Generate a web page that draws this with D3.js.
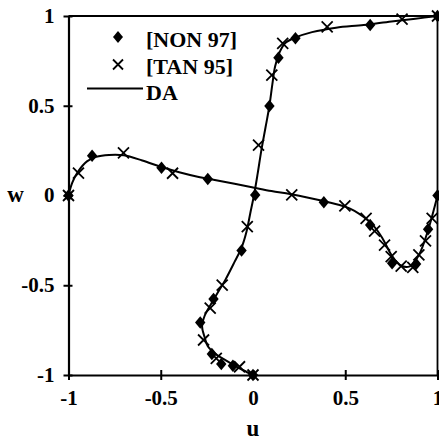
<!DOCTYPE html>
<html>
<head>
<meta charset="utf-8">
<script src="https://cdn.jsdelivr.net/npm/d3@7"></script>
<style>
  html, body { margin: 0; padding: 0; background: #fff; }
  svg { display: block; }
</style>
</head>
<body>
<svg id="chart" width="439" height="440"></svg>
<script>
// DA solution: horizontal profile w(u)
const daH_u = [-1, -0.98, -0.95, -0.9, -0.85, -0.78, -0.7, -0.6, -0.5, -0.4, -0.3, -0.2, -0.1, 0, 0.1, 0.2, 0.3, 0.4, 0.5, 0.55, 0.6, 0.65, 0.7, 0.75, 0.8, 0.85, 0.9, 0.95, 0.98, 1];
const daH_w = [0, 0.07, 0.13, 0.19, 0.215, 0.226, 0.224, 0.195, 0.16, 0.13, 0.105, 0.085, 0.065, 0.045, 0.025, 0.008, -0.012, -0.035, -0.062, -0.085, -0.12, -0.165, -0.235, -0.33, -0.39, -0.395, -0.33, -0.19, -0.08, 0];

// DA solution: vertical profile u(w)
const daV_u = [0, -0.05, -0.095, -0.145, -0.2, -0.245, -0.262, -0.276, -0.262, -0.225, -0.185, -0.15, -0.1, -0.062, -0.035, -0.015, 0.005, 0.025, 0.045, 0.068, 0.089, 0.105, 0.12, 0.145, 0.175, 0.23, 0.32, 0.45, 0.6, 0.75, 0.88, 1];
const daV_w = [-1, -0.975, -0.95, -0.92, -0.885, -0.84, -0.79, -0.73, -0.67, -0.6, -0.53, -0.47, -0.37, -0.29, -0.2, -0.1, 0, 0.12, 0.25, 0.38, 0.5, 0.62, 0.72, 0.8, 0.85, 0.88, 0.91, 0.935, 0.95, 0.97, 0.985, 1];

// [NON 97] data points
const non97_u = [-1, -0.872, -0.496, -0.245, 0.384, 0.635, 0.754, 0.884, 0.949, 1,
                 0.012, -0.062, -0.214, -0.286, -0.223, -0.172, -0.109, 0, 0.089, 0.138, 0.23, 0.635, 1];
const non97_w = [0, 0.222, 0.155, 0.092, -0.038, -0.164, -0.378, -0.382, -0.188, 0,
                 0.003, -0.307, -0.577, -0.708, -0.883, -0.939, -0.948, -1, 0.499, 0.768, 0.876, 0.95, 1];

// [TAN 95] data points
const tan95_u = [-1, -0.946, -0.702, -0.436, 0.21, 0.498, 0.613, 0.659, 0.713, 0.749, 0.803, 0.866, 0.899, 0.935, 0.971,
                 -0.031, -0.167, -0.232, -0.268, -0.199, -0.073, 0, 0.03, 0.102, 0.161, 0.402, 0.808, 1];
const tan95_w = [0, 0.125, 0.238, 0.124, 0.003, -0.058, -0.127, -0.198, -0.276, -0.341, -0.393, -0.4, -0.331, -0.253, -0.127,
                 -0.174, -0.499, -0.628, -0.805, -0.907, -0.954, -1, 0.281, 0.671, 0.848, 0.94, 0.983, 1];

const tickValues = [-1, -0.5, 0, 0.5, 1];
const legendLabels = ["[NON 97]", "[TAN 95]", "DA"];

const FONT = "'Liberation Serif', 'Times New Roman', Times, serif";

const svg = d3.select("#chart");
const x = d3.scaleLinear().domain([-1, 1]).range([68.5, 437.5]);
const y = d3.scaleLinear().domain([-1, 1]).range([375, 16]);

// frame (top and right)
svg.append("path")
  .attr("d", `M${x(-1)},${y(1)}H${x(1)}V${y(-1)}`)
  .attr("fill", "none").attr("stroke", "#000").attr("stroke-width", 1.8);

// axes
const fmt = d => String(d);
const xAxis = svg.append("g").attr("transform", `translate(0,${y(-1)})`)
  .call(d3.axisBottom(x).tickValues(tickValues).tickFormat(fmt).tickSizeOuter(0));
const yAxis = svg.append("g").attr("transform", `translate(${x(-1)},0)`)
  .call(d3.axisLeft(y).tickValues(tickValues).tickFormat(fmt).tickSizeOuter(0));

[xAxis, yAxis].forEach(g => {
  g.attr("font-family", FONT).attr("font-size", 21).attr("font-weight", "bold");
  g.select(".domain").attr("stroke", "#000").attr("stroke-width", 2.2);
  g.selectAll(".tick line").attr("stroke", "#000").attr("stroke-width", 2);
  g.selectAll(".tick text").attr("fill", "#000").style("font-family", FONT);
});
xAxis.selectAll(".tick line").attr("y1", -5).attr("y2", 5);
xAxis.selectAll(".tick text").attr("y", 30).attr("dy", null);
yAxis.selectAll(".tick line").attr("x1", -5).attr("x2", 4);
yAxis.selectAll(".tick text").attr("x", -14).attr("dy", "0.3em");

// axis titles
const title = (tx, ty, t) => svg.append("text").attr("x", tx).attr("y", ty)
  .attr("text-anchor", "middle").style("font-family", FONT)
  .attr("font-weight", "bold").attr("font-size", 23).text(t);
title(x(0), 436, "u");
title(15.5, 202, "w");

// DA curves
const line = d3.line().x(d => x(d[0])).y(d => y(d[1])).curve(d3.curveCatmullRom.alpha(0.5));
const curveH = d3.zip(daH_u, daH_w);
const curveV = d3.zip(daV_u, daV_w);
[curveH, curveV].forEach(c => {
  svg.append("path").datum(c).attr("d", line)
    .attr("fill", "none").attr("stroke", "#000").attr("stroke-width", 2);
});

// markers
const diamond = (cx, cy, s) => `M${cx},${cy - s * 1.2}L${cx + s},${cy}L${cx},${cy + s * 1.2}L${cx - s},${cy}Z`;
const cross = (cx, cy, s) => `M${cx - s},${cy - s}L${cx + s},${cy + s}M${cx - s},${cy + s}L${cx + s},${cy - s}`;

svg.append("g").selectAll("path").data(d3.zip(non97_u, non97_w)).join("path")
  .attr("d", d => diamond(x(d[0]), y(d[1]), 5.2)).attr("fill", "#000");
svg.append("g").selectAll("path").data(d3.zip(tan95_u, tan95_w)).join("path")
  .attr("d", d => cross(x(d[0]), y(d[1]), 5.5))
  .attr("fill", "none").attr("stroke", "#000").attr("stroke-width", 1.8);

// legend
const lg = svg.append("g");
lg.append("path").attr("d", diamond(118, 37, 5)).attr("fill", "#000");
lg.append("path").attr("d", cross(118, 64.5, 5)).attr("fill", "none").attr("stroke", "#000").attr("stroke-width", 1.8);
lg.append("line").attr("x1", 87).attr("x2", 143).attr("y1", 88.5).attr("y2", 88.5)
  .attr("stroke", "#000").attr("stroke-width", 2);
const baselines = [46.5, 73.5, 100];
legendLabels.forEach((t, i) => {
  lg.append("text").attr("x", 146).attr("y", baselines[i])
    .style("font-family", FONT).attr("font-weight", "bold").attr("font-size", 22).text(t);
});
</script>
</body>
</html>
